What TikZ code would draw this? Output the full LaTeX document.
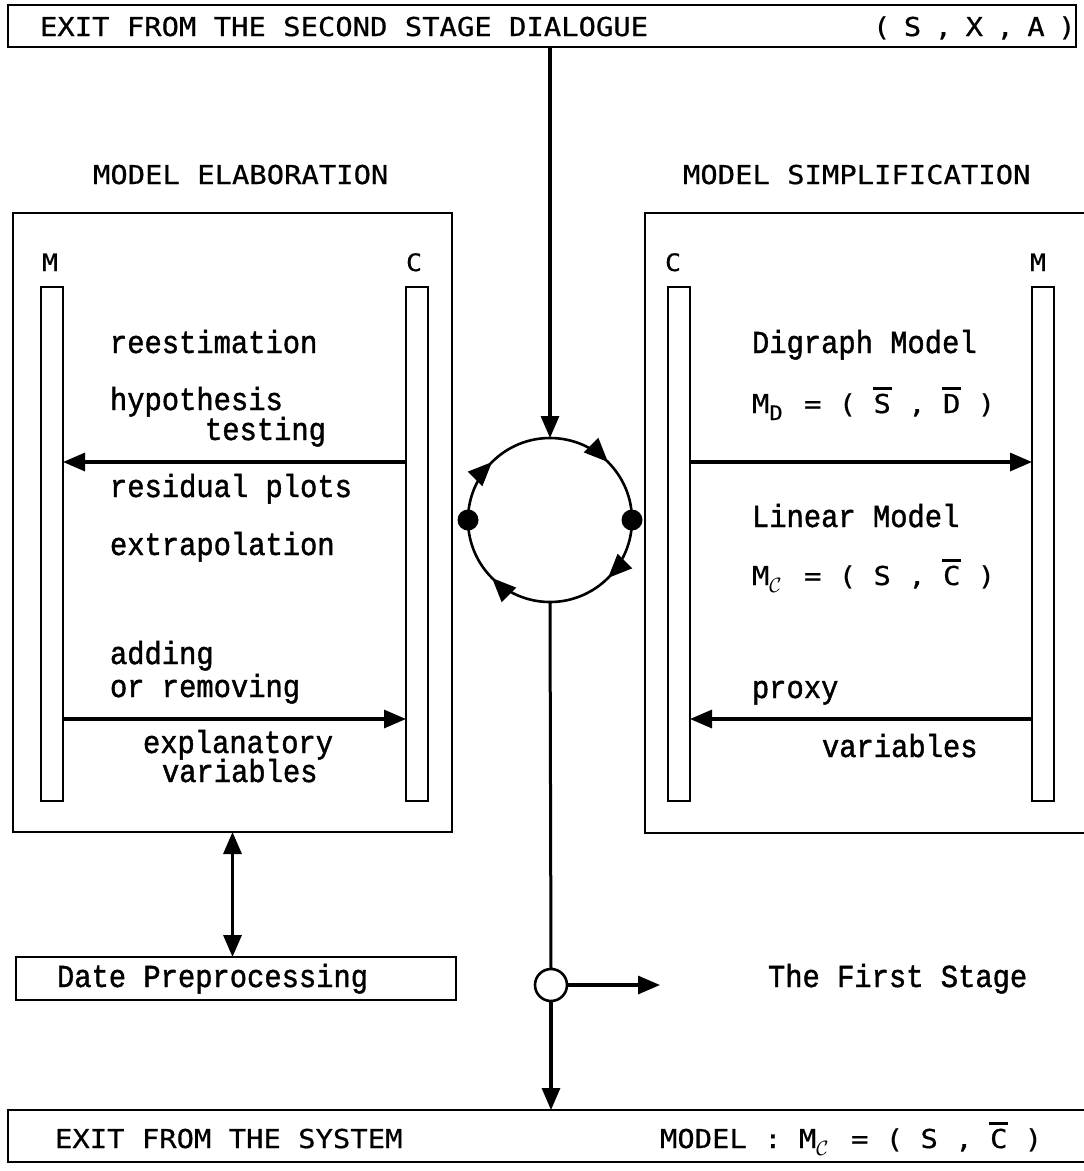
\documentclass[tikz,border=0pt]{standalone}
\usepackage{fontspec}
\usetikzlibrary{arrows.meta,decorations.markings}
\newfontfamily\capf[FakeStretch=1.11,FakeBold=0.6]{DejaVu Sans Mono}
\newfontfamily\lowf[FakeStretch=0.9,FakeBold=1.3]{Liberation Mono}
\newcommand\capsz{\capf\fontsize{26}{30}\selectfont}
\newcommand\lowsz{\lowf\fontsize{32}{28}\selectfont}
\newcommand\labsz{\capf\fontsize{24}{26}\selectfont}
\newcommand\ovl[1]{\makebox[0pt][l]{\hspace*{-1pt}\raisebox{23pt}{\rule{19pt}{3pt}}}#1}
\newcommand\subl[1]{\makebox[17.3pt][l]{\raisebox{-7pt}{\fontsize{20}{20}\selectfont #1}}}
\newcommand\gp{\hspace{13.5pt}}
\tikzset{
  capt/.style={anchor=base west,inner sep=0pt,outer sep=0pt,font=\capsz},
  lowt/.style={anchor=base west,inner sep=0pt,outer sep=0pt,font=\lowsz,text height=15pt,text depth=4pt},
  labt/.style={anchor=base west,inner sep=0pt,outer sep=0pt,font=\labsz},
  frame/.style={draw,line width=2.2pt,rectangle,anchor=north west,inner sep=0pt,outer sep=0pt},
  bar/.style={draw,line width=2pt,rectangle,anchor=north west,inner sep=0pt,outer sep=0pt,minimum width=22pt,minimum height=514pt},
  arr/.style={line width=3.2pt,-{Triangle[length=22pt,width=18pt]}},
  darr/.style={line width=3.2pt,{Triangle[length=22pt,width=18pt]}-{Triangle[length=22pt,width=18pt]}},
  plain/.style={line width=3pt},
  dot/.style={circle,fill=black,minimum size=21pt,inner sep=0pt},
  opendot/.style={circle,draw,fill=white,line width=2.6pt,minimum size=32pt,inner sep=0pt,outer sep=0pt},
  ringdeco/.style={line width=2.6pt,postaction={decorate},decoration={markings,
    mark=at position 0.125 with {\arrowreversed{Triangle[length=24pt,width=20pt]}},
    mark=at position 0.375 with {\arrowreversed{Triangle[length=24pt,width=20pt]}},
    mark=at position 0.625 with {\arrowreversed{Triangle[length=24pt,width=20pt]}},
    mark=at position 0.875 with {\arrowreversed{Triangle[length=24pt,width=20pt]}}}}
}
\begin{document}
\begin{tikzpicture}[x=1pt,y=-1pt]
\useasboundingbox[fill=white] (0,0) rectangle (1084,1171);
% frames
\node[frame,minimum width=1068pt,minimum height=42pt] (topbox) at (8,5) {};
\node[frame,minimum width=439pt,minimum height=619pt] (lbox) at (13,213) {};
\node[frame,minimum width=470pt,minimum height=620pt] (rbox) at (645,213) {};
\node[frame,minimum width=440pt,minimum height=43pt] (date) at (16,957) {};
\node[frame,minimum width=1100pt,minimum height=52pt] (botbox) at (8,1110) {};
% bars
\node[bar] (lM) at (41,287) {};
\node[bar] (lC) at (406,287) {};
\node[bar] (rC) at (668,287) {};
\node[bar] (rM) at (1032,287) {};
% row coordinates
\coordinate (rowa) at (0,462);
\coordinate (rowb) at (0,719);
% texts
\node[capt] (t1) at (40,36) {EXIT FROM THE SECOND STAGE DIALOGUE};
\node[capt] (t2) at (873,36) {(\gp S\gp ,\gp X\gp ,\gp A\gp )};
\node[capt] (me) at (93,184) {MODEL ELABORATION};
\node[capt] (ms) at (683,184) {MODEL SIMPLIFICATION};
\node[labt] (lMl) at (42,271) {M};
\node[labt] (lCl) at (406,271) {C};
\node[labt] (rCl) at (665,271) {C};
\node[labt] (rMl) at (1030,271) {M};
\node[lowt] (a1) at (110,353) {reestimation};
\node[lowt] (a2) at (110,410) {hypothesis};
\node[lowt] (a3) at (205,440) {testing};
\node[lowt] (a4) at (110,497) {residual plots};
\node[lowt] (a5) at (110,555) {extrapolation};
\node[lowt] (a6) at (110,664) {adding};
\node[lowt] (a7) at (110,697) {or removing};
\node[lowt] (a8) at (143,753) {explanatory};
\node[lowt] (a9) at (162,782) {variables};
\node[lowt] (b1) at (752,353) {Digraph Model};
\node[capt] (b2) at (752,413) {M\subl{D} = ( \ovl{S} , \ovl{D} )};
\node[lowt] (b3) at (752,527) {Linear Model};
\node[capt] (b4) at (752,585) {M\subl{$\mathcal{C}$} = ( S , \ovl{C} )};
\node[lowt] (b5) at (752,698) {proxy};
\node[lowt] (b6) at (822,757) {variables};
\node[lowt] (dp) at (57,987) {Date Preprocessing};
\node[lowt] (fs) at (768,987) {The First Stage};
\node[capt] (ex) at (55,1148) {EXIT FROM THE SYSTEM};
\node[capt] (mo) at (660,1148) {MODEL : M\subl{$\mathcal{C}$} = ( S , \ovl{C} )};
% panel arrows
\draw[arr] (lC.west |- rowa) -- (lM.east |- rowa);
\draw[arr] (lM.east |- rowb) -- (lC.west |- rowb);
\draw[arr] (rC.east |- rowa) -- (rM.west |- rowa);
\draw[arr] (rM.west |- rowb) -- (rC.east |- rowb);
% ring
\node[circle,minimum size=164pt,inner sep=0pt,outer sep=0pt] (ring) at (550,520) {};
\draw[ringdeco] (ring.center) circle[radius=82pt];
\node[dot] (dl) at (ring.west) {};
\node[dot] (dr) at (ring.east) {};
\draw[arr] (ring.north |- topbox.south) -- (ring.north);
% lower part
\node[opendot] (oc) at (551,985) {};
\coordinate (fsend) at (660,985);
\draw[plain] (ring.south) -- (oc.north);
\draw[arr] (oc.east) -- (fsend);
\draw[arr] (oc.south) -- (oc.south |- botbox.north);
\draw[darr] (lbox.south) -- (lbox.south |- date.north);
\end{tikzpicture}
\end{document}
